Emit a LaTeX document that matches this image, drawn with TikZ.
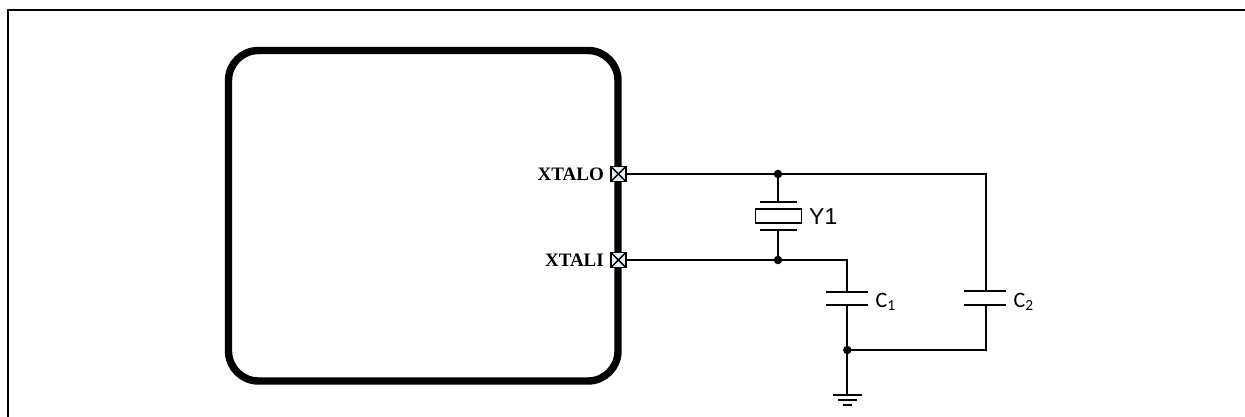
\documentclass[tikz,border=0pt]{standalone}
\usepackage{fontspec}
\setmainfont{Liberation Serif}
\newfontfamily\capfont{Carlito}
\newfontfamily\arialfont{Liberation Sans}
\definecolor{pinfill}{HTML}{E6EEF4}
\tikzset{
  wire/.style={line width=1.9pt,line cap=rect},
  plate/.style={line width=1.9pt},
  frameline/.style={line width=2.4pt},
  chipbody/.style={line width=7.4pt,rounded corners=30pt},
  pinbox/.style={draw,fill=pinfill,line width=1.6pt,minimum size=15pt,inner sep=0pt,path picture={
    \draw[line width=1.4pt] (path picture bounding box.north west)--(path picture bounding box.south east)
      (path picture bounding box.north east)--(path picture bounding box.south west);}},
  pinlabel/.style={font=\fontsize{19}{19}\selectfont\bfseries,anchor=east,inner sep=0pt},
  dotnode/.style={circle,fill=black,minimum size=8.5pt,inner sep=0pt},
  caplabel/.style={font=\capfont\fontsize{22}{22}\selectfont,anchor=west,inner sep=0pt},
  xlabel/.style={font=\arialfont\fontsize{23}{23}\selectfont,anchor=west,inner sep=0pt},
  crystalbody/.style={draw,line width=1.9pt,minimum width=46pt,minimum height=14pt,inner sep=0pt}
}
\begin{document}
\begin{tikzpicture}[x=1pt,y=-1pt]
\useasboundingbox (0,0) rectangle (1245,417);
% frame
\coordinate (fb) at (8,417);
\coordinate (fc) at (8,10.3);
\coordinate (fr) at (1245,10.3);
\draw[frameline] (fb) -- (fc) -- (fr);
% chip
\draw[chipbody] (228.5,50.5) rectangle (618,381);
% junctions
\node[dotnode] (jtop) at (778,174) {};
\node[dotnode] (jmid) at (778,260) {};
\node[dotnode] (jbot) at (847.3,350) {};
\coordinate (ctop) at (985.7,174);
\coordinate (cmid) at (847.3,260);
\coordinate (cbot) at (985.7,350);
% pins
\node[pinbox] (po) at (618.3,174) {};
\node[pinbox] (pi) at (618.3,260) {};
\node[pinlabel] (lo) at (604,174.5) {XTALO};
\node[pinlabel] (li) at (604,260.5) {XTALI};
% crystal
\node[crystalbody] (y1) at (778.5,216.2) {};
\coordinate (y1a) at (778,202);
\coordinate (y1b) at (778,229.7);
\coordinate (y1al) at (760,202);
\coordinate (y1ar) at (796.7,202);
\coordinate (y1bl) at (760,229.7);
\coordinate (y1br) at (796.7,229.7);
\draw[plate] (y1al) -- (y1ar);
\draw[plate] (y1bl) -- (y1br);
\draw[wire] (jtop) -- (y1a);
\draw[wire] (y1b) -- (jmid);
\node[xlabel] (ly) at (809,217) {Y1};
% C1
\coordinate (c1a) at (847.3,292);
\coordinate (c1b) at (847.3,305);
\draw[plate] (826,292) -- (868,292);
\draw[plate] (826,305) -- (868,305);
\node[caplabel] (lc1) at (875.5,301.5) {C\textsubscript{1}};
% C2
\coordinate (c2a) at (985.7,291.3);
\coordinate (c2b) at (985.7,304.7);
\draw[plate] (964.3,291.3) -- (1006,291.3);
\draw[plate] (964.3,304.7) -- (1006,304.7);
\node[caplabel] (lc2) at (1013.5,301.5) {C\textsubscript{2}};
% wires
\draw[wire] (po) -- (jtop) -- (ctop) -- (c2a);
\draw[wire] (pi) -- (jmid) -- (cmid) -- (c1a);
\draw[wire] (c1b) -- (jbot);
\draw[wire] (c2b) -- (cbot) -- (jbot);
% ground
\coordinate (g1) at (847.3,395.3);
\draw[wire] (jbot) -- (g1);
\draw[plate] (833.3,395.3) -- (861.7,395.3);
\draw[plate] (837.7,400) -- (857.3,400);
\draw[plate] (842.7,404.7) -- (852.3,404.7);
\end{tikzpicture}
\end{document}
